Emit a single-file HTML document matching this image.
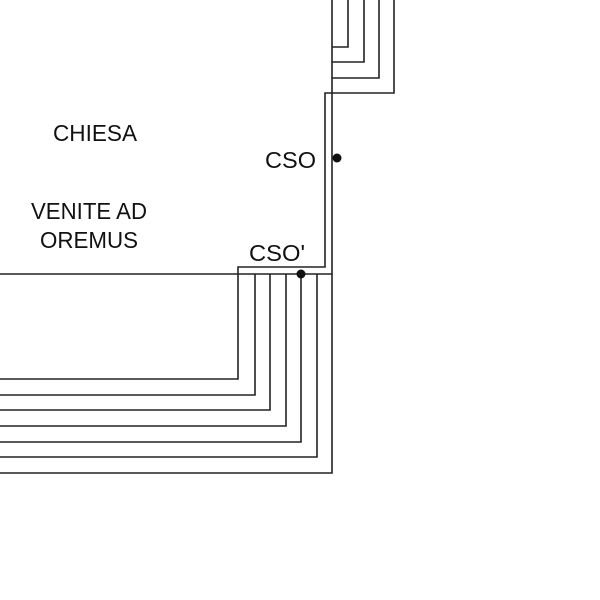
<!DOCTYPE html>
<html><head><style>body{margin:0;background:#fff}</style></head><body>
<svg width="600" height="600" xmlns="http://www.w3.org/2000/svg" style="display:block">
<g fill="none" stroke="#222" stroke-width="1.6">
<path d="M332 0V473H0"/>
<path d="M348 0V47H332"/>
<path d="M364 0V62H332"/>
<path d="M379 0V78H332"/>
<path d="M394 0V93H325V267H238V379H0"/>
<path d="M0 274H332"/>
<path d="M255 274V395H0"/>
<path d="M270 274V410H0"/>
<path d="M286 274V426H0"/>
<path d="M301 274V442H0"/>
<path d="M317 274V457H0"/>
</g>
<circle cx="301" cy="274" r="4.5" fill="#111"/>
<circle cx="337" cy="158" r="4.5" fill="#111"/>
<g font-family="Liberation Sans, sans-serif" font-size="23" fill="#111" lengthAdjust="spacingAndGlyphs">
<text x="53" y="141" textLength="84" lengthAdjust="spacingAndGlyphs">CHIESA</text>
<text x="265" y="168" textLength="51" lengthAdjust="spacingAndGlyphs">CSO</text>
<text x="31" y="219" textLength="116" lengthAdjust="spacingAndGlyphs">VENITE AD</text>
<text x="40" y="248" textLength="98" lengthAdjust="spacingAndGlyphs">OREMUS</text>
<text x="249" y="261" textLength="56" lengthAdjust="spacingAndGlyphs">CSO'</text>
</g>
</svg>
</body></html>
